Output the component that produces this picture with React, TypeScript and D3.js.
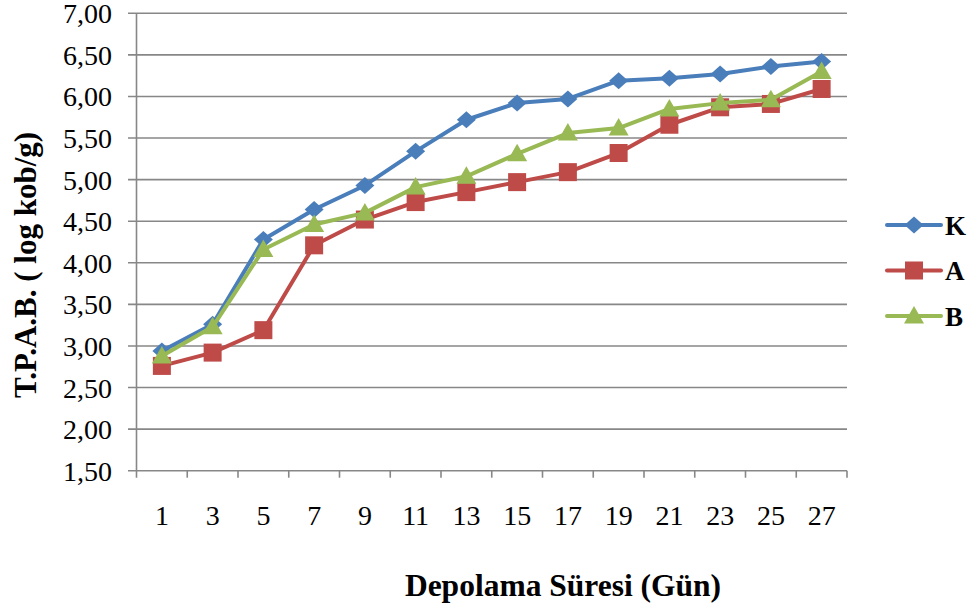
import React from "react";
import * as d3 from "d3";

const days = ["1", "3", "5", "7", "9", "11", "13", "15", "17", "19", "21", "23", "25", "27"];
const seriesK = [2.94, 3.26, 4.28, 4.64, 4.93, 5.34, 5.72, 5.92, 5.97, 6.19, 6.22, 6.27, 6.36, 6.42];
const seriesA = [2.76, 2.92, 3.19, 4.21, 4.52, 4.73, 4.85, 4.97, 5.09, 5.32, 5.66, 5.87, 5.91, 6.09];
const seriesB = [2.88, 3.23, 4.16, 4.46, 4.60, 4.91, 5.04, 5.31, 5.56, 5.62, 5.85, 5.92, 5.96, 6.30];
const yTicks = [1.5, 2, 2.5, 3, 3.5, 4, 4.5, 5, 5.5, 6, 6.5, 7];
const seriesNames = ["K", "A", "B"];
const seriesColors = ["#4A7EBB", "#BE4B48", "#98B954"];

const W = 970, H = 607;
const left = 136.5, right = 847, top = 13.3, bottom = 470.7;
const font = "Liberation Serif";

export default function App() {
  const x = d3.scaleBand().domain(days).range([left, right]).padding(0);
  const y = d3.scaleLinear().domain([1.5, 7]).range([bottom, top]);
  const data = [seriesK, seriesA, seriesB];
  const line = d3.line<number>().x((_, i) => (x(days[i]) as number) + x.bandwidth() / 2).y((d) => y(d));
  const fmt = (v: number) => v.toFixed(2).replace(".", ",");
  const grid = "#878787";

  const marker = (k: number, cx: number, cy: number, key: string) => {
    const c = seriesColors[k];
    if (k === 0) {
      const sx = 9.5, sy = 8.5;
      return <path key={key} d={`M${cx},${cy - sy}L${cx + sx},${cy}L${cx},${cy + sy}L${cx - sx},${cy}Z`} fill={c} />;
    }
    if (k === 1) {
      const s = 9;
      return <rect key={key} x={cx - s} y={cy - s} width={2 * s} height={2 * s} fill={c} />;
    }
    const s = 10;
    return <path key={key} d={`M${cx},${cy - s}L${cx + s},${cy + s - 2.5}L${cx - s},${cy + s - 2.5}Z`} fill={c} />;
  };

  const legendY = [225, 270.5, 316];

  return (
    <svg width={W} height={H} style={{ position: "absolute", left: 0, top: 0, background: "#fff", fontFamily: font }}>
      {yTicks.map((t) => (
        <g key={t}>
          <line x1={128} x2={right} y1={y(t)} y2={y(t)} stroke={grid} strokeWidth={1.6} />
          <text x={112} y={y(t) + 10} textAnchor="end" style={{ fontFamily: font }} fontSize={28} fill="#000">
            {fmt(t)}
          </text>
        </g>
      ))}
      <line x1={left} x2={left} y1={top} y2={bottom + 7} stroke={grid} strokeWidth={1.6} />
      {days.map((d) => (
        <line key={"t" + d} x1={(x(d) as number) + x.bandwidth()} x2={(x(d) as number) + x.bandwidth()} y1={bottom} y2={bottom + 7} stroke={grid} strokeWidth={1.6} />
      ))}
      {days.map((d) => (
        <text key={"l" + d} x={(x(d) as number) + x.bandwidth() / 2} y={525} textAnchor="middle" style={{ fontFamily: font }} fontSize={28} fill="#000">
          {d}
        </text>
      ))}
      {data.map((s, k) => (
        <g key={"s" + k}>
          <path d={line(s) as string} fill="none" stroke={seriesColors[k]} strokeWidth={4} strokeLinejoin="round" />
          {s.map((v, i) => marker(k, (x(days[i]) as number) + x.bandwidth() / 2, y(v), `m${k}-${i}`))}
        </g>
      ))}
      {seriesNames.map((n, k) => (
        <g key={"lg" + n}>
          <line x1={887} x2={941} y1={legendY[k]} y2={legendY[k]} stroke={seriesColors[k]} strokeWidth={4} strokeLinecap="round" />
          {marker(k, 914, legendY[k], "lm" + k)}
          <text x={945} y={legendY[k] + 9.5} style={{ fontFamily: font }} fontWeight="bold" fontSize={27} fill="#000">
            {n}
          </text>
        </g>
      ))}
      <text x={563} y={596} textAnchor="middle" style={{ fontFamily: font }} fontWeight="bold" fontSize={31.5} fill="#000">
        Depolama Süresi (Gün)
      </text>
      <text transform={`translate(36,265) rotate(-90)`} textAnchor="middle" style={{ fontFamily: font }} fontWeight="bold" fontSize={31} fill="#000">
        T.P.A.B. ( log kob/g)
      </text>
    </svg>
  );
}
